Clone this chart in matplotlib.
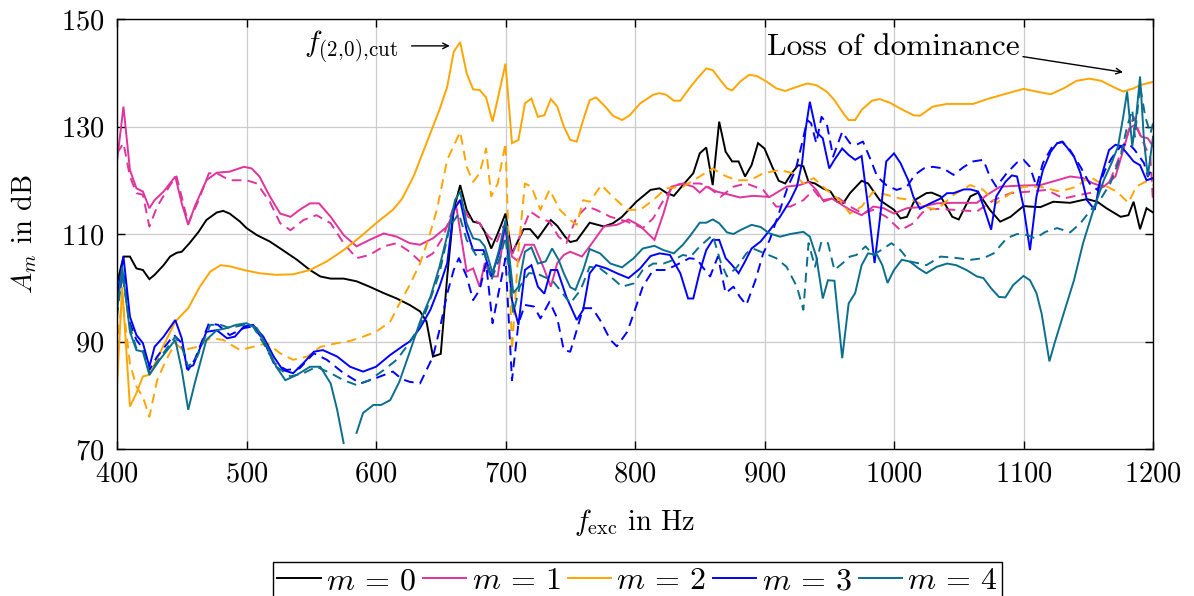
import numpy as np
import matplotlib
matplotlib.use("Agg")
import matplotlib.pyplot as plt
from matplotlib.lines import Line2D

plt.rcParams['mathtext.fontset'] = 'cm'
plt.rcParams['font.family'] = 'serif'
plt.rcParams['font.serif'] = ['cmr10', 'DejaVu Serif']
plt.rcParams['axes.formatter.use_mathtext'] = True

NAN = float('nan')

# ---------------- data: (f_exc [Hz], A_m [dB]) ----------------
m0_solid = [(400,100.8),(405,105.8),(410,105.8),(415,103.6),(420,103.3),(425,101.6),(429,102.4),(436,104.2),(441,105.8),(446,106.5),(450,106.7),(456,108.3),(463,110.4),(469,112.6),(477,114.0),(482,114.3),(487,113.8),(495,112.3),(500,111.1),(508,109.8),(518,108.6),(528,107.0),(539,105.2),(549,103.3),(557,102.1),(565,101.7),(575,101.7),(585,101.2),(595,100.2),(606,99.0),(616,98.0),(626,96.8),(634,95.6),(639,93.7),(644,87.2),(650,87.7),(655,102.1),(660,114.5),(665,119.1),(670,114.5),(675,112.3),(680,112.0),(684,110.4),(689,107.3),(694,110.1),(700,113.8),(705,106.4),(714,110.9),(719,110.9),(725,109.2),(735,112.6),(740,111.5),(746,109.5),(750,108.5),(755,108.8),(765,112.1),(776,111.4),(783,112.0),(790,113.2),(801,116.0),(812,118.2),(819,118.5),(824,117.7),(830,117.1),(837,119.1),(845,121.3),(850,125.0),(855,126.1),(860,119.1),(865,130.9),(870,125.3),(875,123.5),(880,123.5),(885,120.7),(890,122.8),(895,126.9),(900,125.9),(906,122.5),(911,119.9),(916,119.4),(921,121.3),(926,122.8),(930,122.6),(934,119.7),(939,119.4),(945,118.5),(951,117.9),(956,116.0),(961,115.8),(966,117.6),(975,119.9),(980,119.4),(989,116.3),(1000,114.5),(1005,112.9),(1010,113.2),(1016,116.3),(1025,117.6),(1029,117.7),(1036,117.0),(1045,113.2),(1050,112.7),(1059,117.0),(1065,117.7),(1074,114.5),(1082,112.3),(1090,113.2),(1100,115.2),(1105,115.1),(1113,115.0),(1123,116.0),(1136,115.8),(1149,116.5),(1157,116.0),(1164,114.8),(1175,113.2),(1181,113.5),(1185,116.0),(1190,110.9),(1195,114.8),(1200,114.0)]

m1_solid = [(400,123.5),(405,133.7),(410,121.9),(415,118.5),(420,117.9),(425,114.8),(429,116.3),(436,117.9),(445,120.7),(450,115.7),(455,111.7),(460,115.1),(469,120.0),(477,121.4),(487,121.6),(498,122.5),(504,122.2),(510,120.7),(518,117.0),(526,113.8),(534,113.2),(541,114.5),(549,115.7),(556,115.7),(565,113.2),(575,109.8),(585,107.7),(595,108.9),(606,110.1),(616,109.5),(626,108.3),(634,108.0),(644,109.2),(655,111.4),(662,115.1),(670,103.0),(675,103.6),(680,100.2),(684,104.6),(689,102.1),(694,102.1),(700,112.0),(705,105.8),(710,104.9),(715,108.0),(722,108.0),(729,104.0),(735,100.2),(740,104.6),(745,106.1),(750,106.7),(759,105.8),(765,107.7),(776,111.4),(786,111.7),(795,112.7),(804,111.5),(815,108.9),(822,113.8),(828,118.8),(837,119.4),(845,118.8),(850,117.7),(855,118.8),(863,117.9),(873,117.3),(881,116.8),(891,117.1),(904,116.9),(917,118.8),(927,119.1),(934,119.7),(940,118.2),(945,116.3),(952,116.6),(958,115.7),(966,114.5),(975,113.5),(984,115.1),(992,114.8),(1000,113.8),(1010,114.8),(1020,115.0),(1033,115.7),(1046,115.8),(1064,115.8),(1072,117.3),(1082,118.8),(1097,119.0),(1113,119.1),(1126,120.0),(1136,120.7),(1146,120.4),(1154,119.4),(1162,118.8),(1171,120.7),(1177,125.6),(1182,129.7),(1186,130.3),(1191,128.1),(1196,127.8),(1200,126.3)]

m1_dashed = [(400,125.0),(405,126.9),(410,120.7),(415,117.6),(420,117.3),(425,111.4),(431,115.1),(441,119.1),(446,120.7),(455,112.0),(462,115.7),(471,121.3),(477,121.3),(487,120.0),(500,120.0),(508,119.4),(518,116.0),(526,112.0),(534,110.7),(544,112.6),(554,113.5),(565,112.0),(575,108.3),(585,105.5),(595,106.1),(606,107.7),(616,108.3),(626,106.7),(634,104.9),(644,106.4),(652,109.5),(660,115.1),(665,116.3),(671,113.2),(680,112.0),(687,109.5),(693,108.3),(698,111.4),(705,106.1),(713,110.7),(719,114.2),(727,112.9),(734,112.3),(741,109.5),(747,108.3),(755,113.2),(763,115.1),(770,114.5),(781,113.2),(794,112.3),(806,111.1),(814,112.9),(822,116.3),(830,119.1),(840,119.4),(850,119.4),(855,119.1),(866,116.9),(876,118.8),(886,119.4),(899,118.2),(909,115.1),(920,115.1),(930,116.3),(938,118.2),(945,116.0),(956,116.9),(966,115.1),(976,113.8),(984,114.5),(994,113.2),(1005,110.7),(1015,112.0),(1022,114.0),(1030,114.7),(1046,114.5),(1064,114.2),(1077,116.3),(1090,117.6),(1105,117.9),(1118,118.2),(1131,116.6),(1144,117.3),(1157,117.9),(1167,120.0),(1175,125.0),(1185,131.8),(1190,128.4),(1198,124.1),(1200,116.0)]

m2_solid = [(400,81.6),(404,100.2),(410,77.9),(415,80.4),(420,83.5),(425,83.8),(433,87.8),(445,93.7),(455,96.2),(464,100.2),(472,103.0),(480,104.2),(487,104.0),(498,103.3),(510,102.7),(523,102.4),(536,102.5),(549,103.3),(562,104.9),(575,107.0),(588,109.5),(600,112.0),(613,114.5),(620,116.5),(629,120.7),(639,126.9),(649,133.1),(655,137.4),(660,143.9),(665,145.7),(670,139.9),(675,136.9),(680,136.8),(685,135.4),(690,130.9),(695,136.2),(700,141.7),(705,126.9),(710,127.5),(715,134.3),(720,135.2),(725,131.8),(730,132.1),(735,135.1),(740,133.7),(745,130.0),(750,127.5),(755,127.2),(760,131.2),(765,134.9),(770,135.4),(777,133.7),(783,132.0),(790,131.2),(796,132.1),(804,134.3),(814,135.9),(819,136.2),(824,135.9),(830,134.8),(835,134.8),(842,137.1),(848,138.9),(855,140.8),(860,140.5),(866,138.6),(871,137.1),(875,136.7),(881,138.3),(888,139.6),(894,139.4),(902,138.3),(909,137.1),(916,136.6),(924,137.3),(933,138.0),(940,137.7),(948,136.5),(954,134.9),(961,132.4),(965,131.2),(970,131.2),(975,133.1),(983,134.8),(989,135.1),(997,134.4),(1006,133.2),(1015,132.1),(1020,132.0),(1030,133.7),(1041,134.2),(1051,134.2),(1061,134.2),(1072,135.1),(1085,136.0),(1100,137.0),(1110,136.5),(1121,136.0),(1131,137.1),(1141,138.5),(1151,138.9),(1160,138.5),(1169,137.4),(1177,136.5),(1185,137.1),(1190,137.7),(1200,138.3)]

m2_dashed = [(400,88.4),(404,98.3),(410,85.9),(415,81.6),(420,79.7),(425,76.0),(431,82.8),(438,86.6),(445,89.7),(451,88.4),(462,89.0),(472,90.6),(482,90.3),(495,88.4),(505,89.0),(516,89.7),(526,87.8),(536,86.6),(547,87.2),(557,89.0),(570,89.7),(580,90.1),(590,90.9),(600,91.8),(611,93.7),(618,97.0),(626,100.5),(634,104.5),(641,109.5),(647,114.5),(655,123.8),(665,129.0),(670,122.5),(675,119.7),(680,121.3),(685,125.9),(689,117.0),(694,119.4),(700,126.9),(705,88.4),(710,107.0),(715,119.4),(720,118.8),(727,114.5),(734,118.2),(742,114.5),(750,112.6),(755,111.7),(760,116.3),(765,116.0),(774,119.1),(783,116.9),(794,114.5),(804,114.5),(814,116.3),(824,118.5),(837,118.8),(848,120.4),(860,122.2),(868,121.0),(878,120.0),(889,120.0),(899,121.3),(912,121.9),(922,121.3),(930,119.4),(938,120.4),(948,118.2),(958,116.3),(966,113.8),(975,115.1),(984,117.9),(994,117.3),(1005,116.6),(1015,116.3),(1025,115.0),(1033,114.5),(1046,117.3),(1059,119.1),(1069,118.2),(1079,115.7),(1090,117.6),(1100,118.8),(1113,118.8),(1128,117.9),(1141,118.8),(1151,120.7),(1162,119.1),(1172,117.9),(1181,115.8),(1187,118.8),(1194,119.7),(1200,119.1)]

m3_solid = [(400,98.3),(405,105.8),(410,94.6),(415,91.2),(420,89.7),(425,85.3),(429,89.0),(436,90.9),(445,94.0),(450,90.6),(454,85.0),(459,85.6),(469,91.8),(477,92.1),(485,90.6),(491,90.9),(498,92.8),(505,93.1),(513,90.9),(521,87.2),(528,84.7),(536,84.1),(544,86.0),(552,88.1),(559,88.4),(570,87.2),(580,85.3),(590,84.4),(600,85.3),(611,87.5),(621,89.2),(626,90.0),(634,92.5),(642,95.9),(649,100.2),(655,104.6),(660,114.5),(665,116.3),(670,110.7),(675,107.0),(683,107.0),(689,102.1),(695,106.4),(700,112.0),(705,97.7),(710,93.1),(715,103.3),(720,104.2),(725,100.2),(730,98.9),(735,103.3),(740,103.3),(747,98.3),(755,94.0),(760,95.9),(765,102.7),(770,104.2),(778,103.6),(786,102.7),(795,101.8),(804,103.6),(812,105.9),(819,106.4),(827,106.1),(835,102.7),(841,98.0),(845,98.0),(850,103.0),(855,107.0),(860,108.9),(865,108.9),(870,105.5),(875,104.2),(880,102.7),(885,104.9),(890,107.3),(897,108.6),(904,110.7),(912,113.2),(920,116.3),(925,118.8),(929,123.2),(932,129.9),(935,134.6),(938,131.2),(940,129.0),(945,127.8),(950,122.2),(954,123.8),(960,125.9),(965,124.7),(970,123.8),(975,124.5),(980,115.1),(985,104.6),(989,112.6),(994,123.5),(1000,125.0),(1005,123.2),(1011,120.0),(1015,116.9),(1020,114.7),(1028,115.7),(1036,116.6),(1041,117.6),(1046,117.6),(1054,118.3),(1059,118.3),(1065,117.9),(1070,114.5),(1075,110.8),(1079,117.0),(1086,119.7),(1091,120.9),(1095,120.7),(1100,115.1),(1105,107.0),(1110,117.0),(1115,121.9),(1121,125.3),(1126,126.9),(1130,127.1),(1133,126.3),(1139,124.4),(1144,121.3),(1149,116.3),(1155,114.5),(1159,119.7),(1166,125.6),(1171,126.6),(1175,126.4),(1180,125.0),(1185,123.5),(1190,122.8),(1195,120.0),(1200,120.4)]

m3_dashed = [(400,97.1),(405,102.7),(410,93.4),(415,90.3),(420,88.7),(425,84.7),(431,87.2),(444,91.2),(450,89.7),(455,84.7),(460,86.6),(471,93.4),(478,93.1),(487,91.2),(498,92.5),(505,92.8),(513,90.3),(521,86.0),(531,84.7),(541,85.0),(552,87.8),(562,86.6),(575,84.1),(588,82.2),(600,83.2),(613,84.4),(620,83.0),(626,82.5),(634,82.2),(639,84.7),(644,87.2),(649,92.1),(655,98.9),(660,103.3),(664,105.5),(670,102.1),(675,97.7),(680,99.6),(685,104.6),(690,93.4),(694,98.3),(700,105.5),(705,82.8),(710,93.4),(715,96.8),(722,96.5),(727,94.3),(734,97.4),(740,94.3),(745,88.4),(750,88.1),(755,92.1),(760,96.2),(767,96.2),(773,94.0),(781,90.3),(786,89.1),(794,91.8),(799,95.2),(806,100.2),(814,103.3),(824,103.3),(835,104.6),(842,105.5),(848,105.3),(852,103.9),(858,102.1),(864,105.8),(870,99.0),(876,100.2),(881,98.3),(886,96.8),(893,101.4),(899,106.4),(904,108.9),(912,114.5),(918,118.8),(924,121.9),(929,126.9),(933,131.2),(936,130.6),(940,126.9),(944,131.8),(948,130.6),(953,124.4),(960,129.0),(966,126.9),(971,126.6),(976,127.2),(982,123.8),(987,120.7),(994,119.1),(1002,118.2),(1010,118.8),(1016,121.0),(1023,122.2),(1030,122.5),(1038,122.2),(1046,121.0),(1054,122.5),(1061,123.5),(1069,123.8),(1074,120.7),(1079,118.8),(1087,121.3),(1095,123.3),(1100,123.8),(1105,122.5),(1110,118.8),(1115,123.2),(1123,126.6),(1130,127.2),(1136,125.6),(1144,122.5),(1151,119.4),(1157,118.2),(1163,121.9),(1168,124.1),(1175,126.3),(1181,126.9),(1186,125.6),(1193,123.2),(1196,120.7),(1200,122.5)]

m4_solid = [(400,95.6),(404,103.9),(410,91.8),(415,88.4),(420,88.1),(425,83.8),(433,86.6),(445,90.3),(450,84.7),(455,77.3),(460,82.2),(469,90.3),(477,92.1),(485,92.5),(492,93.1),(500,93.4),(508,92.5),(516,89.0),(523,85.3),(530,82.8),(539,83.8),(549,85.3),(557,85.3),(565,82.2),(570,77.3),(575,71.1),(580,NAN),(585,73.0),(590,76.7),(598,78.2),(604,78.2),(611,79.1),(618,82.5),(626,88.0),(634,93.7),(642,98.3),(649,103.9),(656,110.7),(661,116.3),(665,117.9),(670,112.0),(675,109.2),(680,108.9),(684,107.7),(690,102.7),(695,107.0),(700,112.6),(706,99.0),(710,100.2),(715,106.7),(720,107.5),(725,104.5),(731,104.9),(736,107.3),(741,105.2),(745,102.7),(750,100.1),(754,99.6),(760,103.3),(765,107.2),(773,106.4),(781,104.5),(790,103.8),(799,105.5),(806,107.3),(815,107.8),(822,107.0),(830,106.4),(837,108.0),(843,109.8),(850,112.1),(855,112.1),(860,112.7),(865,112.0),(871,110.3),(876,110.0),(882,110.8),(890,111.7),(897,111.3),(904,110.1),(912,109.5),(920,110.0),(930,110.4),(935,109.5),(940,105.8),(945,98.0),(949,101.4),(954,101.3),(960,86.9),(965,97.1),(970,99.0),(975,104.2),(980,106.4),(987,106.1),(991,104.2),(995,100.9),(1000,103.3),(1006,105.2),(1012,104.9),(1019,103.6),(1025,102.7),(1033,103.9),(1041,104.5),(1048,104.2),(1056,103.3),(1064,102.1),(1069,101.8),(1075,99.9),(1081,98.3),(1086,98.2),(1092,100.5),(1100,102.2),(1105,101.4),(1110,99.0),(1114,95.2),(1120,86.3),(1124,89.7),(1131,95.2),(1139,101.4),(1146,108.3),(1154,114.5),(1162,120.0),(1168,123.2),(1173,126.3),(1177,131.8),(1180,136.5),(1184,126.3),(1187,131.8),(1190,139.3),(1193,127.5),(1196,120.7),(1200,128.1)]

m4_dashed = [(400,94.6),(404,102.7),(410,92.8),(415,88.7),(420,88.4),(425,84.1),(433,86.9),(445,90.9),(450,89.0),(455,85.3),(462,87.2),(472,93.1),(480,93.1),(487,92.5),(498,93.1),(505,92.8),(513,89.7),(523,85.3),(534,83.5),(544,84.1),(554,85.3),(565,84.1),(575,82.8),(585,81.9),(595,82.8),(606,84.7),(616,86.6),(626,89.8),(634,93.0),(639,95.9),(649,102.7),(657,111.4),(664,113.8),(670,108.9),(678,105.8),(684,106.4),(689,101.4),(696,105.8),(700,109.5),(706,95.3),(711,100.2),(718,102.7),(724,102.7),(729,102.1),(736,101.4),(742,99.6),(750,97.1),(758,99.6),(765,103.9),(773,103.6),(781,102.1),(790,100.2),(799,100.8),(806,103.3),(814,104.5),(822,104.5),(830,105.2),(837,106.1),(843,105.8),(850,107.7),(860,109.8),(866,104.9),(871,102.1),(879,103.9),(886,106.4),(891,107.3),(900,106.4),(909,105.5),(917,103.9),(925,100.2),(930,95.9),(934,108.3),(939,103.9),(944,108.6),(949,108.3),(954,103.3),(960,104.5),(966,105.8),(971,106.1),(978,107.7),(984,106.1),(992,107.3),(998,108.3),(1005,107.0),(1012,104.9),(1020,104.5),(1025,104.2),(1036,105.8),(1046,105.6),(1059,105.2),(1069,105.5),(1077,106.4),(1087,109.2),(1095,110.0),(1103,109.8),(1109,109.2),(1117,110.4),(1126,111.1),(1136,110.3),(1144,112.0),(1151,114.2),(1159,116.3),(1167,119.4),(1175,124.4),(1180,130.0),(1184,133.1),(1186,128.1),(1190,137.7),(1194,131.8),(1198,128.7),(1200,130.6)]

legend_labels = [r'$m\,=\,0$', r'$m\,=\,1$', r'$m\,=\,2$', r'$m\,=\,3$', r'$m\,=\,4$']
x_ticks = [400, 500, 600, 700, 800, 900, 1000, 1100, 1200]
y_ticks = [70, 90, 110, 130, 150]

# ---------------- style ----------------
C_BLACK = 'black'
C_PINK = '#E0339B'
C_ORANGE = '#FFA500'
C_BLUE = '#0000FF'
C_TEAL = '#0B6E8E'
FS = 20.5
FS_LEG = 23
FS_ANN = 22.6
LW = 1.4

fig = plt.figure(figsize=(11.94, 5.96), dpi=100)
ax = fig.add_axes([117/1194, 1-449/596, (1153-117)/1194, (449-19)/596])

def draw(data, color, dashed=False):
    arr = np.array(data, dtype=float)
    kw = dict(color=color, lw=LW, solid_joinstyle='miter')
    if dashed:
        kw['dashes'] = (5.0, 3.2)
    ax.plot(arr[:, 0], arr[:, 1], **kw)

draw(m0_solid, C_BLACK)
draw(m1_solid, C_PINK)
draw(m1_dashed, C_PINK, True)
draw(m2_solid, C_ORANGE)
draw(m2_dashed, C_ORANGE, True)
draw(m3_solid, C_BLUE)
draw(m3_dashed, C_BLUE, True)
draw(m4_solid, C_TEAL)
draw(m4_dashed, C_TEAL, True)

ax.set_xlim(400, 1200)
ax.set_ylim(70, 150)
ax.set_xticks(x_ticks)
ax.set_yticks(y_ticks)
ax.tick_params(direction='in', length=6, width=1, top=True, right=True,
               labelsize=FS, pad=9)
ax.grid(True, color='#cccccc', lw=0.9)
ax.set_axisbelow(True)
for s in ax.spines.values():
    s.set_linewidth(1.0)

ax.set_xlabel(r'$f_{\mathrm{exc}}$ in Hz', fontsize=FS, labelpad=14)
ax.set_ylabel(r'$A_m$ in dB', fontsize=FS, labelpad=16)

# annotations
ax.text(617, 145.0, r'$f_{(2,\!0),\!\mathrm{cut}}$', ha='right', va='center', fontsize=21.5)
ax.annotate('', xy=(657, 145.0), xytext=(627.5, 145.0),
            arrowprops=dict(arrowstyle='->', lw=1.0, color='black',
                            shrinkA=0, shrinkB=0))
ax.text(1097, 144.8, 'Loss of dominance', ha='right', va='center', fontsize=FS_ANN)
ax.annotate('', xy=(1176.8, 140.1), xytext=(1099.6, 143.0),
            arrowprops=dict(arrowstyle='->', lw=1.0, color='black',
                            shrinkA=0, shrinkB=0))

handles = [Line2D([], [], color=c, lw=LW) for c in
           [C_BLACK, C_PINK, C_ORANGE, C_BLUE, C_TEAL]]
leg = fig.legend(handles, legend_labels, loc='upper center', ncol=5,
                 bbox_to_anchor=(637.5/1194, 1-562/596), bbox_transform=fig.transFigure,
                 fontsize=FS_LEG, frameon=True, fancybox=False, framealpha=1,
                 edgecolor='black', handlelength=1.35, handletextpad=0.17,
                 columnspacing=0.22, borderaxespad=0, borderpad=0.15)
leg.get_frame().set_linewidth(1.0)

fig.savefig('out.png', dpi=100)
